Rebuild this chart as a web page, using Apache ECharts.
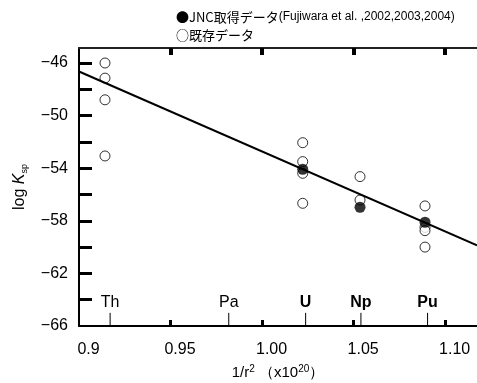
<!DOCTYPE html>
<html>
<head>
<meta charset="utf-8">
<script src="https://cdn.jsdelivr.net/npm/echarts@6/dist/echarts.min.js"></script>
<style>
html,body{margin:0;padding:0;background:#fff;}
#chart{width:477px;height:383px;}
</style>
</head>
<body>
<div id="chart"></div>
<script>
// ---- data ----
const seriesNames = ['JNC取得データ', '既存データ'];
const citation = '(Fujiwara et al. ,2002,2003,2004)';

// JNC measured (filled circles)
const jncX = [1.0222, 1.0535, 1.089];
const jncY = [-54.08, -56.97, -58.11];

// existing data (open circles)
const existX = [0.9142, 0.9142, 0.9142, 0.9142,
                1.0222, 1.0222, 1.0222, 1.0222,
                1.0535, 1.0535,
                1.089, 1.089, 1.089, 1.089];
const existY = [-46.0, -47.15, -48.8, -53.07,
                -52.06, -53.5, -54.39, -56.67,
                -54.64, -56.42,
                -56.87, -58.5, -58.75, -60.0];

// regression line end points
const fitX = [0.9, 1.1174];
const fitY = [-46.65, -59.86];

// element positions on x axis
const elemNames = ['Th', 'Pa', 'U', 'Np', 'Pu'];
const elemX = [0.917, 0.9818, 1.0238, 1.054, 1.0904];

// axes
const xMin = 0.9, xMax = 1.1174;
const yMin = -66, yMax = -44.86;
const xTickValues = [0.95, 1.00, 1.05, 1.10];
const xLabelValues = [0.9, 0.95, 1.00, 1.05, 1.10];
const yTickValues = [-64, -62, -60, -58, -56, -54, -52, -50, -48, -46];
const yLabelValues = [-66, -62, -58, -54, -50, -46];

// ---- chart ----
const LATIN = '"Liberation Sans", Arial, sans-serif';
const CJK = '"Noto Sans CJK JP", "Liberation Sans", sans-serif';
const BOLD = new Set(['U', 'Np', 'Pu']);

const chart = echarts.init(document.getElementById('chart'), null, {renderer: 'canvas'});

const option = {
  animation: false,
  backgroundColor: '#fff',
  grid: {left: 79, right: 0, top: 48, bottom: 57, containLabel: false, outerBoundsMode: 'none'},
  legend: {
    show: true,
    selectedMode: false,
    orient: 'vertical',
    left: 165,
    top: 3,
    itemWidth: 0,
    itemHeight: 0,
    itemGap: 0,
    data: seriesNames,
    formatter: function (name) {
      if (name === seriesNames[0]) return '{m|●}{t|' + name + '}{c|' + citation + '}';
      return '{m|○}{t|' + name + '}';
    },
    textStyle: {
      color: '#000',
      lineHeight: 18,
      rich: {
        m: {fontFamily: CJK, fontSize: 13, color: '#000', lineHeight: 18},
        t: {fontFamily: CJK, fontSize: 13, color: '#000', lineHeight: 18},
        c: {fontFamily: LATIN, fontSize: 12, color: '#000', lineHeight: 18}
      }
    }
  },
  xAxis: [{
    type: 'value',
    min: xMin, max: xMax,
    position: 'bottom',
    splitLine: {show: false},
    axisLine: {show: true, onZero: false, lineStyle: {color: '#000', width: 2}},
    axisTick: {show: true, inside: true, length: 6, lineStyle: {color: '#000', width: 3}, customValues: xTickValues},
    axisLabel: {
      show: true, margin: 16, color: '#000', fontFamily: LATIN, fontSize: 16,
      padding: [0, 0, 0, 19],
      customValues: xLabelValues,
      formatter: function (v) { return v < 0.93 ? '0.9' : v.toFixed(2); }
    },
    name: '{a|1/r}{p|2}{a| （x10}{p|20}{a|）}',
    nameLocation: 'middle',
    nameGap: 38,
    nameTextStyle: {
      rich: {
        a: {fontFamily: LATIN, fontSize: 15, color: '#000'},
        p: {fontFamily: LATIN, fontSize: 10, color: '#000', padding: [0, 0, 7, 0]}
      }
    }
  }, {
    type: 'value',
    min: xMin, max: xMax,
    position: 'top',
    splitLine: {show: false},
    axisLine: {show: true, onZero: false, lineStyle: {color: '#222', width: 2}},
    axisTick: {show: true, inside: true, length: 7, lineStyle: {color: '#000', width: 4}, customValues: xTickValues},
    axisLabel: {show: false}
  }],
  yAxis: {
    type: 'value',
    min: yMin, max: yMax,
    splitLine: {show: false},
    axisLine: {show: true, onZero: false, lineStyle: {color: '#000', width: 2}},
    axisTick: {show: true, inside: true, length: 13, lineStyle: {color: '#000', width: 3}, customValues: yTickValues},
    axisLabel: {
      show: true, margin: 11, color: '#000', fontFamily: LATIN, fontSize: 16,
      customValues: yLabelValues,
      formatter: function (v) { return v < 0 ? '\u2212' + Math.abs(v) : String(v); }
    },
    name: '{a|log }{k|K}{s|sp}',
    nameLocation: 'middle',
    nameGap: 50,
    nameTextStyle: {
      rich: {
        a: {fontFamily: LATIN, fontSize: 16, color: '#000'},
        k: {fontFamily: LATIN, fontSize: 16, fontStyle: 'italic', color: '#000'},
        s: {fontFamily: LATIN, fontSize: 9, color: '#000', padding: [9, 0, 0, 0]}
      }
    }
  },
  series: [
    {
      name: seriesNames[1],
      type: 'scatter',
      xAxisIndex: 0,
      symbol: 'circle',
      symbolSize: 10,
      itemStyle: {color: '#fff', borderColor: '#000', borderWidth: 1},
      z: 3,
      data: existX.map((x, i) => [x, existY[i]])
    },
    {
      name: 'fit',
      type: 'line',
      xAxisIndex: 0,
      symbol: 'none',
      lineStyle: {color: '#000', width: 2},
      z: 4,
      data: fitX.map((x, i) => [x, fitY[i]])
    },
    {
      name: seriesNames[0],
      type: 'scatter',
      xAxisIndex: 0,
      symbol: 'circle',
      symbolSize: 11,
      itemStyle: {color: '#000', borderColor: '#000', borderWidth: 0},
      z: 5,
      data: jncX.map((x, i) => [x, jncY[i]])
    },
    {
      name: 'elements',
      type: 'custom',
      xAxisIndex: 0,
      silent: true,
      z: 6,
      data: elemX.map((x, i) => [x, i]),
      renderItem: function (params, api) {
        const x = api.value(0);
        const idx = api.value(1);
        const p0 = api.coord([x, yMin]);
        const p1 = api.coord([x, yMin + 1]);
        const pl = api.coord([x, yMin + 1.77]);
        const nm = elemNames[idx];
        return {
          type: 'group',
          children: [
            {type: 'line', shape: {x1: p0[0], y1: p0[1], x2: p1[0], y2: p1[1]},
             style: {stroke: '#000', lineWidth: 1}},
            {type: 'text', x: pl[0], y: pl[1],
             style: {text: nm, align: 'center', verticalAlign: 'middle', fill: '#000',
                     font: (BOLD.has(nm) ? 'bold ' : '') + '16px ' + LATIN}}
          ]
        };
      }
    }
  ]
};
chart.setOption(option);
</script>
</body>
</html>
